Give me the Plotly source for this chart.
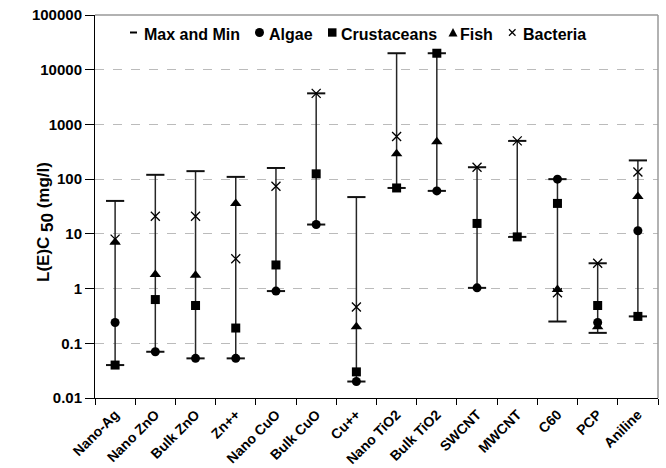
import plotly.graph_objects as go

categories = ["Nano-Ag", "Nano ZnO", "Bulk ZnO", "Zn++", "Nano CuO", "Bulk CuO", "Cu++",
              "Nano TiO2", "Bulk TiO2", "SWCNT", "MWCNT", "C60", "PCP", "Aniline"]
algae = [0.24, 0.07, 0.053, 0.053, 0.9, 14.8, 0.02, None, 61, 1.03, None, 100, 0.24, 11.4]
crustaceans = [0.04, 0.63, 0.49, 0.19, 2.7, 125, 0.03, 69, 20000, 15.5, 8.8, 36, 0.49, 0.31]
fish = [7, 1.8, 1.75, 36, None, None, 0.2, 290, 480, None, None, 0.96, 0.2, 48]
bacteria = [8, 21, 21, 3.5, 74, 3700, 0.46, 600, None, 165, 500, 0.84, 2.9, 135]
max_vals = [40, 120, 140, 110, 160, 3700, 47, 20000, 20000, 165, 500, 100, 2.9, 220]
min_vals = [0.04, 0.07, 0.053, 0.053, 0.9, 14.8, 0.02, 69, 61, 1.03, 8.8, 0.25, 0.155, 0.31]
ytick_vals = [0.01, 0.1, 1, 10, 100, 1000, 10000, 100000]
ytick_text = ["0.01", "0.1", "1", "10", "100", "1000", "10000", "100000"]
legend_names = ["Max and Min", "Algae", "Crustaceans", "Fish", "Bacteria"]

FONT = "Liberation Sans, Arial, sans-serif"
W, H = 666, 468
ML, MR, MT, MB = 95, 8, 15, 70
PW, PH = W - ML - MR, H - MT - MB


def px(x):
    return (x - ML) / PW


def py(y):
    return (H - MB - y) / PH


fig = go.Figure()

# vertical range lines
lx, ly = [], []
for c, lo, hi in zip(categories, min_vals, max_vals):
    lx += [c, c, None]
    ly += [lo, hi, None]
fig.add_trace(go.Scatter(x=lx, y=ly, mode="lines", line=dict(color="#262626", width=1.5),
                         showlegend=False, hoverinfo="skip"))

# caps
fig.add_trace(go.Scatter(x=categories + categories, y=max_vals + min_vals, mode="markers",
                         name=legend_names[0], showlegend=False,
                         marker=dict(symbol="line-ew-open", size=13, color="#111",
                                     line=dict(width=2, color="#111"))))


def add_series(vals, name, symbol, size, extra=None):
    xs = [c for c, v in zip(categories, vals) if v is not None]
    ys = [v for v in vals if v is not None]
    m = dict(symbol=symbol, size=size, color="#000")
    if extra:
        m.update(extra)
    fig.add_trace(go.Scatter(x=xs, y=ys, mode="markers", name=name, marker=m,
                             showlegend=False))


add_series(algae, legend_names[1], "circle", 9)
add_series(crustaceans, legend_names[2], "square", 9)
add_series(fish, legend_names[3], "triangle-up", 10)
add_series(bacteria, legend_names[4], "x-thin-open", 9, dict(line=dict(width=1.3, color="#000")))

# compact legend (symbols as shapes, labels as text)
LY = 32.5
shapes = [
    dict(type="line", xref="paper", yref="paper", x0=0, x1=1, y0=1, y1=1,
         line=dict(color="#999", width=1.5)),
    dict(type="line", xref="paper", yref="paper", x0=1, x1=1, y0=0, y1=1,
         line=dict(color="#999", width=1.5)),
    dict(type="line", xref="paper", yref="paper", x0=px(130), x1=px(137), y0=py(LY), y1=py(LY),
         line=dict(color="#000", width=2)),
    dict(type="circle", xref="paper", yref="paper", x0=px(255), x1=px(264),
         y0=py(LY - 4.5), y1=py(LY + 4.5), fillcolor="#000", line=dict(width=0)),
    dict(type="rect", xref="paper", yref="paper", x0=px(328), x1=px(336.5),
         y0=py(LY - 4.2), y1=py(LY + 4.2), fillcolor="#000", line=dict(width=0)),
    dict(type="path", xref="paper", yref="paper",
         path=f"M {px(448.5)} {py(LY + 4)} L {px(457.5)} {py(LY + 4)} L {px(453)} {py(LY - 4.5)} Z",
         fillcolor="#000", line=dict(width=0)),
    dict(type="line", xref="paper", yref="paper", x0=px(509), x1=px(515.5), y0=py(LY - 3.2),
         y1=py(LY + 3.2), line=dict(color="#000", width=1.2)),
    dict(type="line", xref="paper", yref="paper", x0=px(509), x1=px(515.5), y0=py(LY + 3.2),
         y1=py(LY - 3.2), line=dict(color="#000", width=1.2)),
]
text_x = [142, 267, 339, 458, 521]
annotations = [
    dict(text=t, x=px(x0), y=py(LY + 1.5), xref="paper", yref="paper", xanchor="left",
         yanchor="middle", showarrow=False,
         font=dict(size=16, family=FONT, weight="bold", color="#000"))
    for t, x0 in zip(legend_names, text_x)
]
annotations.append(dict(
    text='L(E)C <sub><span style="font-size:17px">50</span></sub> (mg/l)',
    x=px(46), y=py(222), xref="paper", yref="paper", textangle=-90,
    xanchor="center", yanchor="middle", showarrow=False,
    font=dict(size=17, family=FONT, weight="bold", color="#000")))

fig.update_layout(
    width=W, height=H,
    margin=dict(l=ML, r=MR, t=MT, b=MB, autoexpand=False),
    plot_bgcolor="white", paper_bgcolor="white",
    font=dict(family=FONT, size=15, color="#000", weight="bold"),
    showlegend=False,
    xaxis=dict(type="category", categoryorder="array", categoryarray=categories,
               range=[-0.5, 13.5], tickangle=-45, tickson="boundaries",
               ticks="outside", ticklen=6, tickcolor="#000", automargin=False,
               ticklabelstandoff=2,
               showline=True, linecolor="#000", linewidth=1, showgrid=False,
               tickfont=dict(size=14, family=FONT, weight="bold")),
    yaxis=dict(type="log", range=[-2, 5], tickvals=ytick_vals, ticktext=ytick_text,
               ticks="outside", ticklen=9, tickcolor="#000", automargin=False,
               showline=True, linecolor="#000", linewidth=1,
               showgrid=True, gridcolor="#bbb", griddash="dash", gridwidth=1,
               zeroline=False,
               tickfont=dict(size=15, family=FONT, weight="bold")),
    shapes=shapes,
    annotations=annotations,
)

fig.write_html("out.html")
